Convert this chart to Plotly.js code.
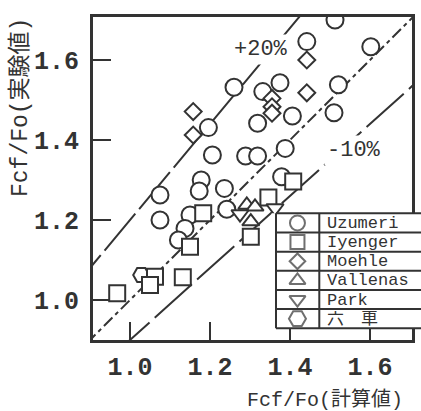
<!DOCTYPE html>
<html><head><meta charset="utf-8">
<script src="https://cdn.plot.ly/plotly-3.0.1.min.js"></script>
<style>html,body{margin:0;padding:0;background:#fff;}</style>
</head><body>
<div id="chart" style="width:421px;height:411px;"></div>
<script>
// ---- data ----
const uzumeriX = [1.5125,1.442,1.602,1.26,1.375,1.332,1.521,1.406,1.51,1.319,1.196,1.206,1.289,1.319,1.388,1.379,1.178,1.173,1.236,1.075,1.075,1.242,1.15,1.1375,1.121];
const uzumeriY = [1.700,1.646,1.633,1.532,1.543,1.521,1.538,1.460,1.468,1.442,1.431,1.3625,1.360,1.360,1.379,1.308,1.300,1.2725,1.279,1.2625,1.200,1.227,1.2125,1.179,1.150];
const iyengerX = [0.968,1.0625,1.05,1.132,1.15,1.183,1.346,1.302,1.408];
const iyengerY = [1.017,1.058,1.0375,1.057,1.133,1.217,1.256,1.158,1.296];
const moehleX = [1.158,1.158,1.442,1.442,1.355,1.355,1.355];
const moehleY = [1.471,1.4125,1.600,1.518,1.504,1.483,1.467];
const vallenasX = [1.292,1.3125,1.302];
const vallenasY = [1.2375,1.233,1.196];
const parkX = [1.275,1.3625];
const parkY = [1.215,1.230];
const rokushaX = [1.028];
const rokushaY = [1.0625];

const seriesNames = ['Uzumeri','Iyenger','Moehle','Vallenas','Park','六　車'];
const tickVals = [1.0,1.2,1.4,1.6];
const tickText = ['1.0','1.2','1.4','1.6'];
const ratioLines = [1.0, 1.2, 0.9];          // y = k * x reference lines
const ratioLabels = ['+20%','-10%'];
const xTitle = 'Fcf/Fo(計算値)';
const yTitle = 'Fcf/Fo(実験値)';

// ---- styles ----
const ink = '#333333';
const mono = '"Liberation Mono", "Noto Sans CJK JP", monospace';
const lineEnds = [0.85, 1.75];

function mk(x, y, sym, size, name){
  return {x:x, y:y, type:'scatter', mode:'markers', name:name, showlegend:false, hoverinfo:'skip',
    marker:{symbol:sym, size:size, color:'#ffffff', line:{color:ink, width:2}}};
}
function refLine(k, dash){
  return {x:lineEnds, y:lineEnds.map(v=>v*k), type:'scatter', mode:'lines', showlegend:false, hoverinfo:'skip',
    line:{color:ink, width:2, dash:dash}};
}

const traces = [
  refLine(ratioLines[0], '12px,4px,4px,4px'),
  refLine(ratioLines[1], '48px,6px'),
  refLine(ratioLines[2], '50px,7px'),
  mk(rokushaX, rokushaY, 'hexagon2', 16, seriesNames[5]),
  mk(uzumeriX, uzumeriY, 'circle', 17, seriesNames[0]),
  mk(iyengerX, iyengerY, 'square', 16, seriesNames[1]),
  mk(moehleX, moehleY, 'diamond', 13, seriesNames[2]),
  mk(vallenasX, vallenasY, 'triangle-up', 15, seriesNames[3]),
  mk(parkX, parkY, 'triangle-down', 15, seriesNames[4])
];

// ---- legend table on its own small subplot (x2/y2) ----
const nRows = seriesNames.length;
const divX = 0.2986, symX = 0.148, txtX = 0.345;
// white background
traces.push({x:[-0.05,1.1,1.1,-0.05,-0.05], y:[0,0,nRows,nRows,0], xaxis:'x2', yaxis:'y2', type:'scatter', mode:'lines',
  fill:'toself', fillcolor:'#ffffff', line:{width:0}, showlegend:false, hoverinfo:'skip'});
// grid lines
const gx = [], gy = [];
for(let i=0;i<=nRows;i++){ gx.push(0,1.1,null); gy.push(i,i,null); }
gx.push(0,0,null, divX,divX,null); gy.push(0,nRows,null, 0,nRows,null);
traces.push({x:gx, y:gy, xaxis:'x2', yaxis:'y2', type:'scatter', mode:'lines', line:{color:ink, width:2},
  showlegend:false, hoverinfo:'skip'});
// legend symbols
const legSyms = ['circle','square','diamond','triangle-up','triangle-down','hexagon2'];
const legSizes = [15,14,12,14,14,17];
traces.push({x:seriesNames.map(()=>symX), y:seriesNames.map((_,i)=>nRows-0.5-i), xaxis:'x2', yaxis:'y2',
  type:'scatter', mode:'markers', showlegend:false, hoverinfo:'skip',
  marker:{symbol:legSyms, size:legSizes, color:'#ffffff', line:{color:ink, width:2}}});

const annotations = seriesNames.map((n,i)=>({
  xref:'x2', yref:'y2', x:txtX, y:nRows-0.5-i, xanchor:'left', yanchor:'middle', showarrow:false,
  text:n, height:16, borderpad:0, font:{family:mono, size:17, color:ink}
}));
annotations.push(
  {xref:'x', yref:'y', x:1.3275, y:1.6275, text:ratioLabels[0], showarrow:false, xanchor:'center', yanchor:'middle',
   bgcolor:'#ffffff', borderpad:2, font:{family:mono, size:22, color:ink}},
  {xref:'x', yref:'y', x:1.56, y:1.375, text:ratioLabels[1], showarrow:false, xanchor:'center', yanchor:'middle',
   bgcolor:'#ffffff', borderpad:2, font:{family:mono, size:22, color:ink}},
  {xref:'paper', yref:'paper', x:(325-93)/328, y:(340-400)/323, text:xTitle, showarrow:false, xanchor:'center', yanchor:'middle',
   font:{family:mono, size:20, color:ink}},
  {xref:'paper', yref:'paper', x:(20-93)/328, y:(340-108)/323, text:yTitle, showarrow:false, xanchor:'center', yanchor:'middle',
   textangle:-90, font:{family:mono, size:23, color:ink}}
);

const axisCommon = {
  tickvals:tickVals, ticktext:tickText, ticks:'inside', ticklen:18, tickwidth:2.5, tickcolor:ink,
  showline:true, linewidth:3, linecolor:ink, mirror:true, showgrid:false, zeroline:false,
  layer:'below traces', fixedrange:true,
  tickfont:{family:mono, size:25, color:ink, weight:'bold'}
};

const layout = {
  width:421, height:411,
  margin:{l:93, r:0, t:17, b:71, pad:0},
  paper_bgcolor:'#ffffff', plot_bgcolor:'rgba(0,0,0,0)',
  showlegend:false,
  xaxis:Object.assign({}, axisCommon, {domain:[0, 319/328], range:[0.9075, 1.705], ticklabelstandoff:2}),
  yaxis:Object.assign({}, axisCommon, {domain:[0,1], range:[0.9, 1.7075], ticklabelstandoff:6}),
  xaxis2:{domain:[(276-0.03*145-93)/328, 1], range:[-0.03,1.0], visible:false, fixedrange:true, anchor:'y2'},
  yaxis2:{domain:[(340-330.2)/323, (340-211.4)/323], range:[-0.1, 6.1], visible:false, fixedrange:true, anchor:'x2'},
  annotations:annotations
};

Plotly.newPlot('chart', traces, layout, {staticPlot:true, displayModeBar:false});
</script>
</body></html>
